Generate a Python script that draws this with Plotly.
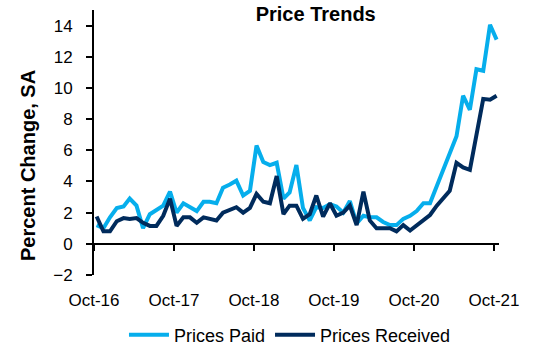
import pandas as pd
import plotly.graph_objects as go

# Monthly observations, Oct-2016 .. Oct-2021
months = pd.date_range(start="2016-10-01", periods=61, freq="MS") + pd.Timedelta(days=12)

prices_paid = [
    1.2, 1.0, 1.7, 2.3, 2.4, 2.9, 2.45, 1.0, 1.9, 2.2, 2.45, 3.35,
    2.0, 2.6, 2.35, 2.1, 2.7, 2.7, 2.6, 3.6, 3.8, 4.05, 3.1, 3.4,
    6.3, 5.25, 5.05, 5.2, 2.9, 3.3, 5.05, 2.3, 1.5, 2.35, 2.3, 2.55,
    2.4, 2.0, 2.75, 1.3, 1.8, 1.7, 1.7, 1.4, 1.2, 1.2, 1.6, 1.8,
    2.1, 2.6, 2.6, 3.7, 4.8, 5.85, 6.9, 9.5, 8.6, 11.2, 11.1, 14.05,
    13.1,
]

prices_received = [
    1.75, 0.8, 0.8, 1.45, 1.65, 1.6, 1.65, 1.35, 1.15, 1.15, 1.8, 2.9,
    1.15, 1.7, 1.7, 1.35, 1.7, 1.6, 1.5, 2.0, 2.2, 2.35, 2.0, 2.3,
    3.2, 2.7, 2.6, 4.35, 1.9, 2.45, 2.45, 1.6, 1.9, 3.1, 1.75, 2.6,
    1.8, 2.0, 2.45, 1.2, 3.35, 1.5, 1.0, 1.0, 1.0, 0.8, 1.2, 0.85,
    1.2, 1.5, 1.85, 2.45, 2.95, 3.4, 5.2, 4.9, 4.75, 7.0, 9.3, 9.25,
    9.5,
]

tick_dates = ["2016-10-01", "2017-10-01", "2018-10-01", "2019-10-01", "2020-10-01", "2021-10-01"]
tick_labels = ["Oct-16", "Oct-17", "Oct-18", "Oct-19", "Oct-20", "Oct-21"]
y_ticks = [-2, 0, 2, 4, 6, 8, 10, 12, 14]

FONT = "Liberation Sans, Arial, sans-serif"
LIGHT = "#06AEEC"
DARK = "#002B5C"

fig = go.Figure()
fig.add_trace(go.Scatter(x=months, y=prices_paid, mode="lines", name="Prices Paid",
                         line=dict(color=LIGHT, width=4)))
fig.add_trace(go.Scatter(x=months, y=prices_received, mode="lines", name="Prices Received",
                         line=dict(color=DARK, width=4)))

y_min, y_max = -2, 15

fig.update_layout(
    width=536, height=354,
    margin=dict(l=94, r=37, t=10, b=79, autoexpand=False),
    paper_bgcolor="white", plot_bgcolor="white",
    font=dict(family=FONT, size=17, color="black"),
    title=dict(text="<b>Price Trends</b>", font=dict(family=FONT, size=20, color="black"),
               xref="container", x=0.589, xanchor="center",
               yref="container", y=1 - 14 / 354, yanchor="middle"),
    showlegend=True,
    legend=dict(orientation="h", xref="container", x=0.541, xanchor="center",
                yref="container", y=1 - 335 / 354, yanchor="middle",
                font=dict(family=FONT, size=18, color="black"),
                itemwidth=40,
                bgcolor="rgba(0,0,0,0)"),
    xaxis=dict(
        type="date",
        range=["2016-10-01", "2021-10-24"],
        tickvals=tick_dates, ticktext=tick_labels,
        showgrid=False, zeroline=False,
        showline=True, linecolor="black", linewidth=2,
        ticks="outside", ticklen=6, tickwidth=2, tickcolor="black",
        anchor="free", position=(0 - y_min) / (y_max - y_min),
        ticklabelstandoff=35, automargin=False,
        tickfont=dict(family=FONT, size=17, color="black"),
    ),
    yaxis=dict(
        range=[y_min, y_max],
        tickvals=y_ticks,
        showgrid=False, zeroline=False,
        showline=True, linecolor="black", linewidth=2,
        ticks="outside", ticklen=6, tickwidth=2, tickcolor="black",
        ticklabelstandoff=10, automargin=False,
        tickfont=dict(family=FONT, size=17, color="black"),
    ),
    annotations=[dict(
        text="<b>Percent Change, SA</b>", textangle=-90,
        xref="paper", x=-0.163, xanchor="center",
        yref="paper", y=0.415, yanchor="middle",
        showarrow=False, font=dict(family=FONT, size=20, color="black"),
    )],
)

fig.write_html("out.html")
